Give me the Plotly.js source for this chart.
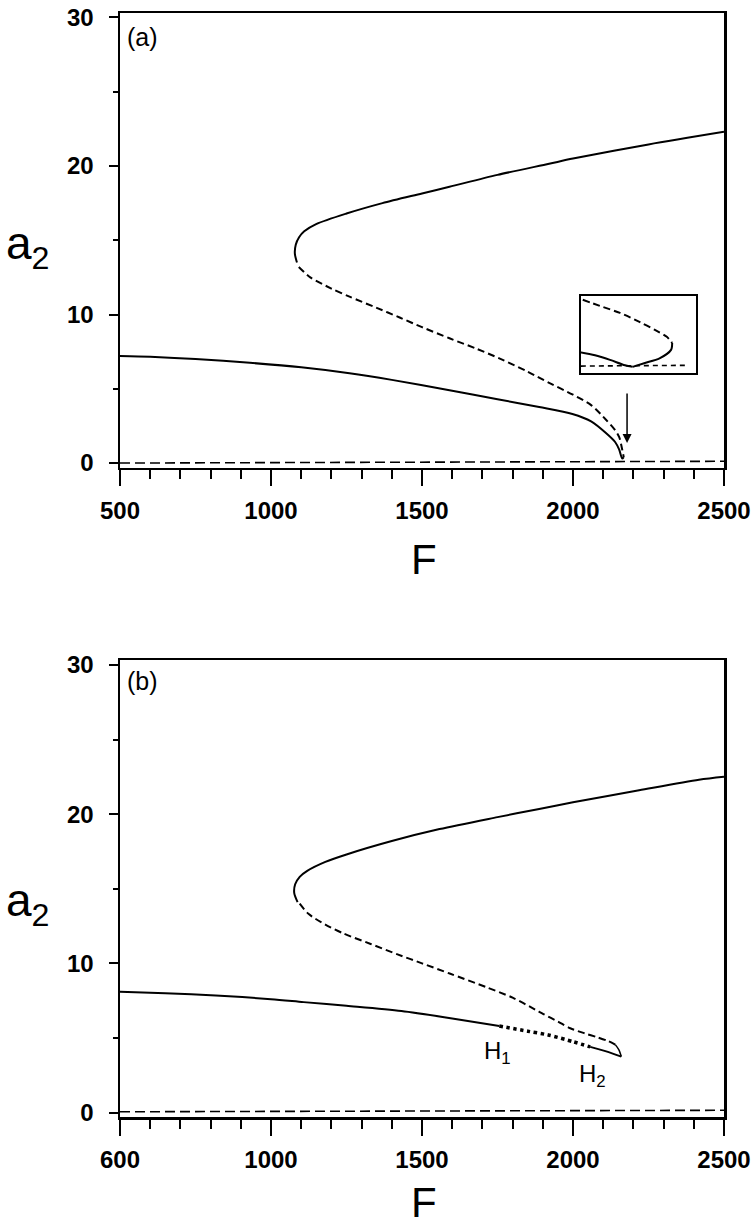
<!DOCTYPE html>
<html>
<head>
<meta charset="utf-8">
<script src="https://cdn.plot.ly/plotly-3.0.1.min.js"></script>
<style>html,body{margin:0;padding:0;background:#fff;}#chart{width:756px;height:1228px;}</style>
</head>
<body>
<div id="chart"></div>
<script>
// ---------- Panel (a) data ----------
const aUpperF = [1086, 1079, 1082, 1093, 1110, 1151, 1250, 1369, 1500, 1591, 1750, 1921, 2000, 2250, 2500];
const aUpperA = [13.5, 14.1, 14.7, 15.2, 15.6, 16.1, 16.8, 17.5, 18.15, 18.6, 19.4, 20.15, 20.5, 21.45, 22.3];
const aMidF = [1092, 1130, 1200, 1260, 1350, 1426, 1500, 1591, 1680, 1756, 1850, 1921, 2000, 2060, 2110, 2140, 2153, 2163, 2168];
const aMidA = [13.2, 12.5, 11.75, 11.2, 10.45, 9.8, 9.15, 8.4, 7.7, 7.05, 6.15, 5.4, 4.6, 3.9, 2.9, 2.2, 1.75, 0.9, 0.4];
const aLowF = [500, 600, 750, 930, 1100, 1260, 1400, 1591, 1750, 1888, 1998, 2060, 2110, 2140, 2153, 2163, 2168];
const aLowA = [7.2, 7.15, 7.0, 6.75, 6.45, 6.05, 5.6, 4.9, 4.3, 3.77, 3.3, 2.8, 2.0, 1.4, 0.9, 0.3, 0.4];
const aTrivF = [500, 2500];
const aTrivA = [0.0, 0.12];

// inset (magnified cusp of panel a)
const insetDashF = [2150.5, 2155, 2160.2, 2165.4, 2169.3, 2172.4, 2173.8];
const insetDashA = [0.95, 0.87, 0.78, 0.66, 0.56, 0.47, 0.39];
const insetTurnF = [2173.8, 2173.5, 2170.5, 2166.7, 2163.5];
const insetTurnA = [0.39, 0.30, 0.19, 0.13, 0.08];
const insetLowF = [2149.7, 2153.7, 2157.6, 2161.5, 2163.5];
const insetLowA = [0.27, 0.23, 0.17, 0.10, 0.08];
const insetTrivF = [2150, 2177.9];
const insetTrivA = [0.09, 0.10];

// ---------- Panel (b) data ----------
const bUpperF = [1088, 1077, 1080, 1095, 1120, 1180, 1250, 1400, 1558, 1750, 1888, 2000, 2219, 2417, 2500];
const bUpperA = [14.1, 14.7, 15.3, 15.8, 16.2, 16.8, 17.3, 18.2, 19.0, 19.8, 20.35, 20.8, 21.6, 22.3, 22.5];
const bMidF = [1095, 1125, 1180, 1240, 1330, 1419, 1500, 1594, 1713, 1800, 1875, 1902, 1950, 1991, 2040, 2080, 2115, 2140];
const bMidA = [14.0, 13.3, 12.6, 12.0, 11.3, 10.6, 10.0, 9.3, 8.4, 7.7, 6.9, 6.6, 6.1, 5.65, 5.3, 5.05, 4.8, 4.55];
const bTipF = [2140, 2152, 2160];
const bTipA = [4.55, 4.2, 3.75];
const bLowF = [500, 650, 817, 1000, 1108, 1250, 1432, 1600, 1756];
const bLowA = [8.1, 8.0, 7.85, 7.6, 7.4, 7.15, 6.8, 6.3, 5.8];
const bHopfF = [1756, 1850, 1918, 2000, 2057];
const bHopfA = [5.8, 5.45, 5.2, 4.75, 4.4];
const bH2F = [2057, 2110, 2160];
const bH2A = [4.4, 4.1, 3.75];
const bTrivF = [500, 2500];
const bTrivA = [0.05, 0.15];

// ticks
const xTickVals = [500, 1000, 1500, 2000, 2500];
const xTickTextA = ['500', '1000', '1500', '2000', '2500'];
const xTickTextB = ['600', '1000', '1500', '2000', '2500'];
const yTickVals = [0, 10, 20, 30];
const yTickText = ['0', '10', '20', '30'];

function tr(x, y, line, xa, ya) {
  const l = Object.assign({shape: 'spline', smoothing: 0.8}, line);
  return {x: x, y: y, type: 'scatter', mode: 'lines', line: l, xaxis: xa, yaxis: ya,
          hoverinfo: 'skip', showlegend: false};
}
const solid = {color: 'black', width: 2};
const dashed = {color: 'black', width: 2, dash: '7px,4px'};
const trivDash = {color: 'black', width: 1.6, dash: '10px,5px'};

const data = [
  tr(aUpperF, aUpperA, solid, 'x', 'y'),
  tr(aMidF, aMidA, dashed, 'x', 'y'),
  tr(aLowF, aLowA, solid, 'x', 'y'),
  tr(aTrivF, aTrivA, trivDash, 'x', 'y'),
  tr(insetDashF, insetDashA, dashed, 'x3', 'y3'),
  tr(insetTurnF, insetTurnA, solid, 'x3', 'y3'),
  tr(insetLowF, insetLowA, solid, 'x3', 'y3'),
  tr(insetTrivF, insetTrivA, {color: 'black', width: 1.6, dash: '5px,4px'}, 'x3', 'y3'),
  tr(bUpperF, bUpperA, solid, 'x2', 'y2'),
  tr(bMidF, bMidA, dashed, 'x2', 'y2'),
  tr(bTipF, bTipA, {color: 'black', width: 1.5}, 'x2', 'y2'),
  tr(bLowF, bLowA, solid, 'x2', 'y2'),
  tr(bHopfF, bHopfA, {color: 'black', width: 3.5, dash: 'dot'}, 'x2', 'y2'),
  tr(bH2F, bH2A, solid, 'x2', 'y2'),
  tr(bTrivF, bTrivA, trivDash, 'x2', 'y2')
];

const tickFont = {family: 'Liberation Sans, Arial, sans-serif', size: 24, color: 'black', weight: 'bold'};

function xAxis(anchor, texts) {
  return {
    range: [500, 2500], anchor: anchor, showgrid: false, zeroline: false,
    showline: true, linecolor: 'black', linewidth: 2.5, mirror: true,
    ticks: 'outside', ticklen: 16, tickwidth: 2, tickcolor: 'black',
    tickmode: 'array', tickvals: xTickVals, ticktext: texts, tickfont: tickFont,
    ticklabelstandoff: 4,
    minor: {dtick: 100, tick0: 500, ticks: 'outside', ticklen: 9, tickwidth: 2, tickcolor: 'black', showgrid: false},
    fixedrange: true
  };
}
function yAxis(anchor, domain) {
  return {
    range: [-0.3, 30.3], anchor: anchor, domain: domain, showgrid: false, zeroline: false,
    showline: true, linecolor: 'black', linewidth: 2.5, mirror: true,
    ticks: 'outside', ticklen: 9, tickwidth: 2, tickcolor: 'black',
    tickmode: 'array', tickvals: yTickVals, ticktext: yTickText, tickfont: tickFont,
    ticklabelstandoff: 10,
    minor: {dtick: 5, tick0: 0, ticks: 'outside', ticklen: 5, tickwidth: 2, tickcolor: 'black', showgrid: false},
    fixedrange: true
  };
}

const narrow = 'Liberation Sans Narrow, Arial Narrow, Liberation Sans, Arial, sans-serif';
const fFont = {family: narrow, size: 42, color: 'black'};
const aFont = {family: narrow, size: 46, color: 'black'};
const lblFont = {family: 'Liberation Sans, Arial, sans-serif', size: 25, color: 'black'};
const hFont = {family: 'Liberation Sans, Arial, sans-serif', size: 24, color: 'black'};

function ann(o) { return Object.assign({showarrow: false, xanchor: 'center', yanchor: 'middle'}, o); }

const layout = {
  width: 756, height: 1228,
  margin: {l: 120, r: 32, t: 13, b: 111},
  paper_bgcolor: 'white', plot_bgcolor: 'white',
  showlegend: false,
  xaxis: xAxis('y', xTickTextA),
  yaxis: yAxis('x', [0.5883, 1]),
  xaxis2: xAxis('y2', xTickTextB),
  yaxis2: yAxis('x2', [0, 0.4135]),
  xaxis3: {domain: [0.763, 0.9536], anchor: 'y3', range: [2150, 2180], showgrid: false, zeroline: false,
           showline: true, mirror: true, linecolor: 'black', linewidth: 2, showticklabels: false, ticks: '', fixedrange: true},
  yaxis3: {domain: [0.6739, 0.7437], anchor: 'x3', range: [0, 1], showgrid: false, zeroline: false,
           showline: true, mirror: true, linecolor: 'black', linewidth: 2, showticklabels: false, ticks: '', fixedrange: true},
  annotations: [
    ann({text: '(a)', xref: 'x', yref: 'y', x: 575, y: 28.7, font: lblFont}),
    ann({text: '(b)', xref: 'x2', yref: 'y2', x: 575, y: 28.9, font: lblFont}),
    ann({text: 'a<sub>2</sub>', xref: 'paper', yref: 'y', x: -0.152, y: 14.6, font: aFont}),
    ann({text: 'a<sub>2</sub>', xref: 'paper', yref: 'y2', x: -0.152, y: 14.0, font: aFont}),
    ann({text: 'F', xref: 'x', yref: 'paper', x: 1506, y: 0.505, font: fFont}),
    ann({text: 'F', xref: 'x2', yref: 'paper', x: 1506, y: -0.0995, yanchor: 'bottom', borderpad: 0, font: fFont}),
    ann({text: 'H<sub>1</sub>', xref: 'x2', yref: 'y2', x: 1751, y: 4.0, font: hFont}),
    ann({text: 'H<sub>2</sub>', xref: 'x2', yref: 'y2', x: 2066, y: 2.5, font: hFont}),
    {text: '', xref: 'x', yref: 'y', x: 2179, y: 1.35, ax: 0, ay: -51, showarrow: true,
     arrowhead: 2, arrowsize: 1.2, arrowwidth: 1.5, arrowcolor: 'black'}
  ]
};

Plotly.newPlot('chart', data, layout, {displayModeBar: false, staticPlot: true});
</script>
</body>
</html>
